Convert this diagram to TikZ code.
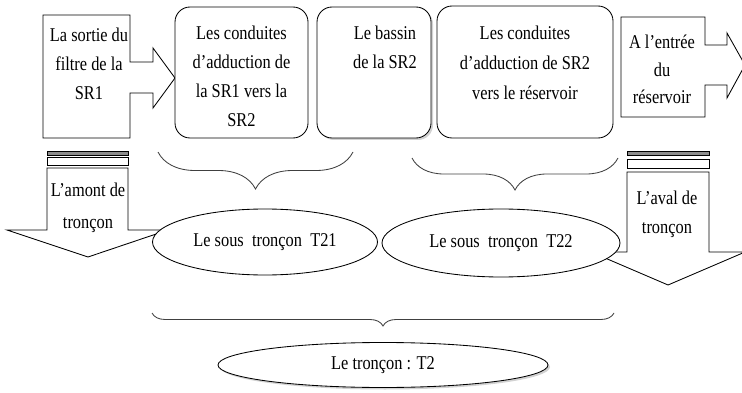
\documentclass[tikz,border=0pt]{standalone}
\usepackage{fontspec}
\setmainfont{Liberation Serif}[FakeStretch=0.84]
\usetikzlibrary{positioning, shapes.geometric, shadows, decorations.pathreplacing}

\begin{document}
\begin{tikzpicture}[x=1pt, y=-1pt, line width=0.85pt,
    every node/.style={font=\fontsize{19.5}{29}\selectfont, align=center, inner sep=0pt},
    rbox/.style={draw, rounded corners=15pt, fill=white},
    oval/.style={ellipse, draw, fill=white},
    ombre/.style={drop shadow={shadow xshift=2pt, shadow yshift=-2pt, fill=black!35}},
    accol/.style={decorate, draw=black!75, decoration={brace, mirror, amplitude=#1}}]
    \useasboundingbox (0,0) rectangle (742,393);

    \draw (43,15) -- (130,15) -- (130,62) -- (153,62) -- (153,48) -- (175,78) -- (153,108) -- (153,93) -- (130,93) -- (130,138) -- (43,138) -- cycle;
    \draw (621,17) -- (705,17) -- (705,45) -- (727,45) -- (727,33) -- (745,65) -- (727,98) -- (727,85) -- (705,85) -- (705,117) -- (621,117) -- cycle;
    \node (S1) [anchor=north] at (89,28) {La sortie du\\filtre de la\\SR1};
    \node (E1) [anchor=north] at (662,35) {A l’entrée\\[-1.5pt]du\\[-1.5pt]réservoir};

    \node (C1) [rbox, minimum width=133pt, minimum height=131pt] at (241.5,72.5) {};
    \node (C1t) [below=18.5pt of C1.north] {Les conduites\\d’adduction de\\la SR1 vers la\\SR2};
    \node (B1) [rbox, ombre, minimum width=114pt, minimum height=131pt] at (374,72.5) {};
    \node (B1t) [below=19pt of B1.north, xshift=11pt] {Le bassin\\de la SR2};
    \node (C2) [rbox, minimum width=176pt, minimum height=132pt] at (525,72) {};
    \node (C2t) [below=20pt of C2.north] {Les conduites\\[1pt]d’adduction de SR2\\[1pt]vers le réservoir};

    \draw[fill=black!45] (47,151) rectangle (128,155);
    \draw (47,157) rectangle (128,165);
    \draw (47,168) -- (128,168) -- (128,230) -- (168,230) -- (88,257) -- (7,230) -- (47,230) -- cycle;
    \node (A1) [anchor=north] at (88,183) {L’amont de\\[3pt]tronçon};

    \draw[fill=black!45] (627,151) rectangle (709,155);
    \draw (627,159) rectangle (709,168);
    \draw (627,172) -- (709,172) -- (709,252) -- (745,252) -- (668,285) -- (591,252) -- (627,252) -- cycle;
    \node (A2) [anchor=north] at (667,191) {L’aval de\\tronçon};

    \coordinate (b1a) at (158,152);
    \coordinate (b1b) at (353,152);
    \coordinate (b2a) at (412,158);
    \coordinate (b2b) at (618,158);
    \coordinate (b3a) at (152,313);
    \coordinate (b3b) at (614,313);
    \draw[accol=37pt] (b1a) -- (b1b);
    \draw[accol=32pt] (b2a) -- (b2b);
    \draw[accol=13pt] (b3a) -- (b3b);

    \node (T21) [oval, minimum width=225pt, minimum height=66pt] at (265,242) {Le sous\ \ tronçon\ \ T21};
    \node (T22) [oval, minimum width=238pt, minimum height=68pt] at (501,243) {Le sous\ \ tronçon\ \ T22};
    \node (T2) [oval, ombre, minimum width=330pt, minimum height=45pt] at (383,365) {Le tronçon : T2};
\end{tikzpicture}
\end{document}
